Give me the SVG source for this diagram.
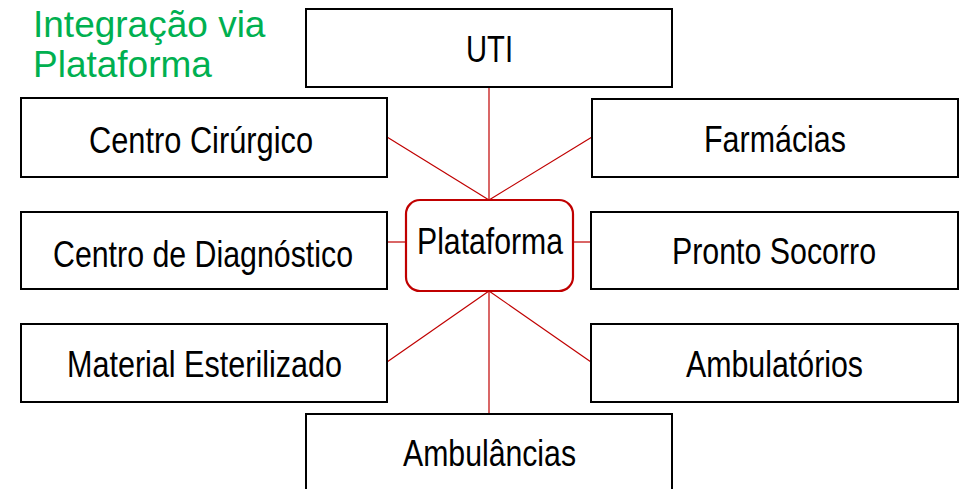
<svg xmlns="http://www.w3.org/2000/svg" width="966" height="489" viewBox="0 0 966 489">
<style>
.box{fill:#fff;stroke:#000;stroke-width:2}
.plat{fill:#fff;stroke:#C00000;stroke-width:2.2}
.lbl{font-family:"Liberation Sans",Arial,sans-serif;font-size:36px;fill:#000;text-anchor:middle}
.title{font-family:"Liberation Sans",Arial,sans-serif;font-size:37px;fill:#00B050}
.conn line{stroke:#C00000;stroke-width:1.2}
</style>
<rect width="966" height="489" fill="#fff"/>
<text class="title" x="33" y="37">Integração via</text>
<text class="title" x="33" y="77">Plataforma</text>
<g id="connectors" class="conn">
<line x1="489" y1="87" x2="489" y2="200"/>
<line x1="387" y1="137" x2="489" y2="200"/>
<line x1="592" y1="137" x2="489" y2="200"/>
<line x1="387" y1="242" x2="406" y2="242"/>
<line x1="573" y1="242" x2="591" y2="242"/>
<line x1="387" y1="362" x2="489" y2="291"/>
<line x1="591" y1="362" x2="489" y2="291"/>
<line x1="489" y1="291" x2="489" y2="414"/>
</g>
<g id="uti"><rect class="box" x="306" y="9" width="366" height="78"/><text class="lbl" x="489.5" y="62" textLength="47" lengthAdjust="spacingAndGlyphs">UTI</text></g>
<g id="centro-cirurgico"><rect class="box" x="21" y="98" width="366" height="79"/><text class="lbl" x="201" y="153" textLength="224" lengthAdjust="spacingAndGlyphs">Centro Cirúrgico</text></g>
<g id="farmacias"><rect class="box" x="592" y="99" width="366" height="78"/><text class="lbl" x="775" y="152" textLength="142" lengthAdjust="spacingAndGlyphs">Farmácias</text></g>
<g id="centro-diagnostico"><rect class="box" x="21" y="212" width="366" height="77"/><text class="lbl" x="203" y="267" textLength="300" lengthAdjust="spacingAndGlyphs">Centro de Diagnóstico</text></g>
<g id="plataforma"><rect class="plat" x="406" y="200" width="167" height="91" rx="14"/><text class="lbl" x="490" y="254" textLength="146" lengthAdjust="spacingAndGlyphs">Plataforma</text></g>
<g id="pronto-socorro"><rect class="box" x="591" y="212" width="367" height="77"/><text class="lbl" x="774" y="264" textLength="204" lengthAdjust="spacingAndGlyphs">Pronto Socorro</text></g>
<g id="material-esterilizado"><rect class="box" x="21" y="324" width="366" height="78"/><text class="lbl" x="204.5" y="377" textLength="275" lengthAdjust="spacingAndGlyphs">Material Esterilizado</text></g>
<g id="ambulatorios"><rect class="box" x="591" y="324" width="367" height="78"/><text class="lbl" x="774.5" y="377" textLength="177" lengthAdjust="spacingAndGlyphs">Ambulatórios</text></g>
<g id="ambulancias"><rect class="box" x="306" y="414" width="366" height="90"/><text class="lbl" x="489.5" y="466" textLength="173" lengthAdjust="spacingAndGlyphs">Ambulâncias</text></g>
</svg>
